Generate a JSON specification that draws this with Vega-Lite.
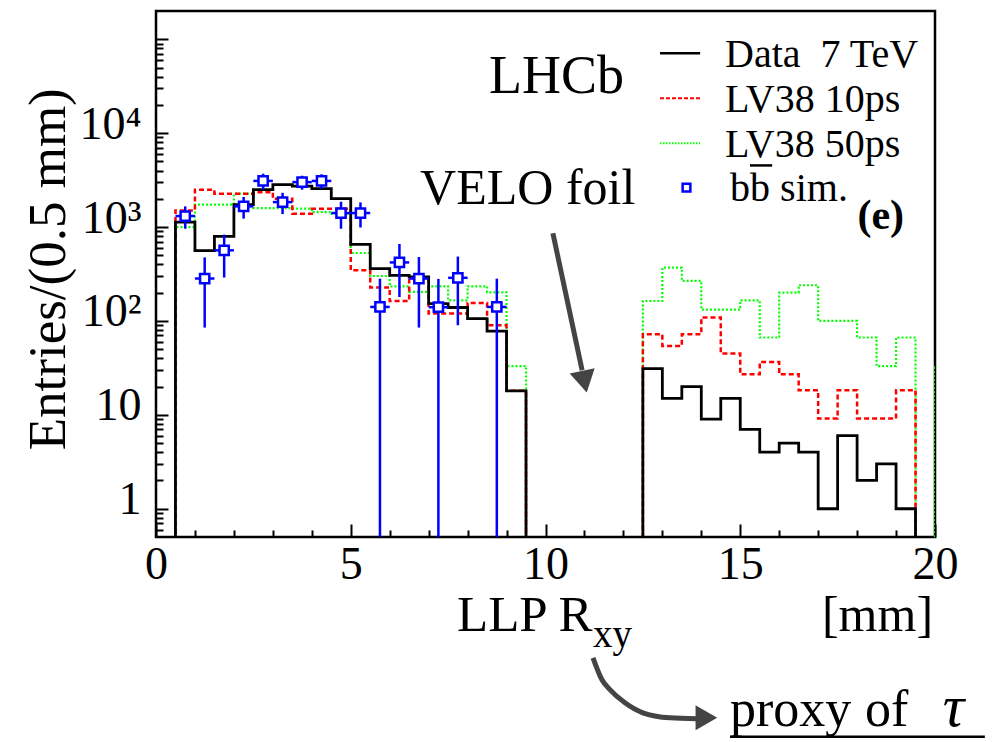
{
  "$schema": "https://vega.github.io/schema/vega-lite/v6.json",
  "autosize": {"type": "none"},
  "width": 779,
  "height": 526,
  "padding": {"left": 156, "top": 11, "right": 71, "bottom": 205},
  "background": "white",
  "config": {
    "font": "Liberation Serif",
    "view": {"stroke": "black", "strokeWidth": 2.5},
    "axis": {"grid": false, "domain": false, "tickColor": "black", "tickWidth": 2, "labelColor": "black", "labelFont": "Liberation Serif", "labelFontSize": 46, "labelOverlap": false, "labelFlush": false}
  },
  "datasets": {
    "data7": [
      {"x": 0, "y": 0.1}, {"x": 0.5, "y": 1130}, {"x": 1.0, "y": 562}, {"x": 1.5, "y": 795}, {"x": 2.0, "y": 1730},
      {"x": 2.5, "y": 2500}, {"x": 3.0, "y": 2826}, {"x": 3.5, "y": 2730}, {"x": 4.0, "y": 2560}, {"x": 4.5, "y": 2005},
      {"x": 5.0, "y": 655}, {"x": 5.5, "y": 361}, {"x": 6.0, "y": 306}, {"x": 6.5, "y": 294}, {"x": 7.0, "y": 153},
      {"x": 7.5, "y": 139}, {"x": 8.0, "y": 106}, {"x": 8.5, "y": 78}, {"x": 9.0, "y": 18}, {"x": 9.5, "y": 0.1},
      {"x": 12.5, "y": 31}, {"x": 13.0, "y": 15}, {"x": 13.5, "y": 20}, {"x": 14.0, "y": 9}, {"x": 14.5, "y": 15},
      {"x": 15.0, "y": 7}, {"x": 15.5, "y": 4}, {"x": 16.0, "y": 5}, {"x": 16.5, "y": 4}, {"x": 17.0, "y": 1},
      {"x": 17.5, "y": 6}, {"x": 18.0, "y": 2}, {"x": 18.5, "y": 3}, {"x": 19.0, "y": 1}, {"x": 19.5, "y": 0.1}, {"x": 20, "y": 0.1}
    ],
    "lv10": [
      {"x": 0, "y": 0.1}, {"x": 0.5, "y": 1500}, {"x": 1.0, "y": 2500}, {"x": 1.5, "y": 2265}, {"x": 2.0, "y": 2265},
      {"x": 2.5, "y": 2355}, {"x": 3.0, "y": 2000}, {"x": 3.5, "y": 1390}, {"x": 4.0, "y": 1570}, {"x": 4.5, "y": 1570},
      {"x": 5.0, "y": 346}, {"x": 5.5, "y": 227}, {"x": 6.0, "y": 163}, {"x": 6.5, "y": 283}, {"x": 7.0, "y": 120},
      {"x": 7.5, "y": 120}, {"x": 8.0, "y": 155}, {"x": 8.5, "y": 90}, {"x": 9.0, "y": 18}, {"x": 9.5, "y": 0.1},
      {"x": 12.5, "y": 72}, {"x": 13.0, "y": 54}, {"x": 13.5, "y": 72}, {"x": 14.0, "y": 109}, {"x": 14.5, "y": 45},
      {"x": 15.0, "y": 27}, {"x": 15.5, "y": 36.6}, {"x": 16.0, "y": 27}, {"x": 16.5, "y": 18.3}, {"x": 17.0, "y": 9.15},
      {"x": 17.5, "y": 18.3}, {"x": 18.0, "y": 9.15}, {"x": 18.5, "y": 9.15}, {"x": 19.0, "y": 18.3}, {"x": 19.5, "y": 0.1}, {"x": 20, "y": 0.1}
    ],
    "lv50": [
      {"x": 0, "y": 0.1}, {"x": 0.5, "y": 1000}, {"x": 1.0, "y": 1730}, {"x": 1.5, "y": 1730}, {"x": 2.0, "y": 2265},
      {"x": 2.5, "y": 1590}, {"x": 3.0, "y": 1590}, {"x": 3.5, "y": 1570}, {"x": 4.0, "y": 1445}, {"x": 4.5, "y": 1390},
      {"x": 5.0, "y": 529}, {"x": 5.5, "y": 301}, {"x": 6.0, "y": 234}, {"x": 6.5, "y": 204}, {"x": 7.0, "y": 234},
      {"x": 7.5, "y": 166}, {"x": 8.0, "y": 234}, {"x": 8.5, "y": 202}, {"x": 9.0, "y": 33}, {"x": 9.5, "y": 0.1},
      {"x": 12.5, "y": 163}, {"x": 13.0, "y": 370}, {"x": 13.5, "y": 267}, {"x": 14.0, "y": 132}, {"x": 14.5, "y": 132},
      {"x": 15.0, "y": 166}, {"x": 15.5, "y": 66.6}, {"x": 16.0, "y": 200}, {"x": 16.5, "y": 240}, {"x": 17.0, "y": 100},
      {"x": 17.5, "y": 100}, {"x": 18.0, "y": 66.6}, {"x": 18.5, "y": 33}, {"x": 19.0, "y": 66.6}, {"x": 19.5, "y": 0.1},
      {"x": 20.0, "y": 32}, {"x": 20.5, "y": 32}
    ],
    "bb": [
      {"x": 0.75, "y": 1310, "lo": 960, "hi": 1660, "xlo": 0.5, "xhi": 1.0},
      {"x": 1.25, "y": 283, "lo": 85, "hi": 475, "xlo": 1.0, "xhi": 1.5},
      {"x": 1.75, "y": 565, "lo": 290, "hi": 830, "xlo": 1.5, "xhi": 2.0},
      {"x": 2.25, "y": 1660, "lo": 1230, "hi": 2090, "xlo": 2.0, "xhi": 2.5},
      {"x": 2.75, "y": 3100, "lo": 2500, "hi": 3700, "xlo": 2.5, "xhi": 3.0},
      {"x": 3.25, "y": 1845, "lo": 1375, "hi": 2315, "xlo": 3.0, "xhi": 3.5},
      {"x": 3.75, "y": 3010, "lo": 2500, "hi": 3520, "xlo": 3.5, "xhi": 4.0},
      {"x": 4.25, "y": 3100, "lo": 2550, "hi": 3650, "xlo": 4.0, "xhi": 4.5},
      {"x": 4.75, "y": 1410, "lo": 960, "hi": 1860, "xlo": 4.5, "xhi": 5.0},
      {"x": 5.25, "y": 1410, "lo": 990, "hi": 1830, "xlo": 5.0, "xhi": 5.5},
      {"x": 5.75, "y": 141, "lo": 0.01, "hi": 282, "xlo": 5.5, "xhi": 6.0},
      {"x": 6.25, "y": 420, "lo": 180, "hi": 660, "xlo": 6.0, "xhi": 6.5},
      {"x": 6.75, "y": 283, "lo": 85, "hi": 480, "xlo": 6.5, "xhi": 7.0},
      {"x": 7.25, "y": 140, "lo": 0.01, "hi": 280, "xlo": 7.0, "xhi": 7.5},
      {"x": 7.75, "y": 288, "lo": 90, "hi": 485, "xlo": 7.5, "xhi": 8.0},
      {"x": 8.75, "y": 141, "lo": 0.01, "hi": 282, "xlo": 8.5, "xhi": 9.0}
    ]
  },
  "encoding": {
    "x": {"field": "x", "type": "quantitative", "title": null, "scale": {"domain": [0, 20], "nice": false, "zero": false},
      "axis": {"values": [0,1,2,3,4,5,6,7,8,9,10,11,12,13,14,15,16,17,18,19,20],
        "labelExpr": "datum.value % 5 === 0 ? format(datum.value, 'd') : ''",
        "tickSize": {"condition": {"test": "datum.value % 5 === 0", "value": -13}, "value": -7},
        "labelPadding": 18, "labelBaseline": "top", "labelAlign": "center"}},
    "y": {"field": "y", "type": "quantitative", "title": null, "scale": {"type": "log", "domain": [0.5, 200000], "nice": false},
      "axis": {"values": [0.6,0.7,0.8,0.9,1,2,3,4,5,6,7,8,9,10,20,30,40,50,60,70,80,90,100,200,300,400,500,600,700,800,900,1000,2000,3000,4000,5000,6000,7000,8000,9000,10000,20000,30000,40000,50000,60000,70000,80000,90000,100000],
        "labelExpr": "datum.value === 1 ? '1\u2004' : datum.value === 10 ? '10\u2004' : datum.value === 100 ? '10²' : datum.value === 1000 ? '10³' : datum.value === 10000 ? '10⁴' : ''",
        "tickSize": {"condition": {"test": "indexof([1,10,100,1000,10000,100000], datum.value) >= 0", "value": -12}, "value": -7},
        "labelPadding": 27, "labelAlign": "right", "labelBaseline": "middle", "labelOffset": -9}}
  },
  "layer": [
    {
      "data": {"name": "lv50"},
      "mark": {"type": "line", "interpolate": "step-after", "clip": true, "color": "#00ff00", "strokeWidth": 2.2, "strokeDash": [2, 2]}
    },
    {
      "data": {"name": "lv10"},
      "mark": {"type": "line", "interpolate": "step-after", "clip": true, "color": "#ff0000", "strokeWidth": 2.5, "strokeDash": [5, 3]}
    },
    {
      "data": {"name": "data7"},
      "mark": {"type": "line", "interpolate": "step-after", "clip": true, "color": "black", "strokeWidth": 2.8}
    },
    {
      "data": {"name": "bb"},
      "mark": {"type": "rule", "clip": true, "color": "#0000ff", "strokeWidth": 2.5},
      "encoding": {"y2": {"field": "hi"}}
    },
    {
      "data": {"name": "bb"},
      "mark": {"type": "rule", "clip": true, "color": "#0000ff", "strokeWidth": 2.5},
      "encoding": {"y2": {"field": "lo"}}
    },
    {
      "data": {"name": "bb"},
      "mark": {"type": "rule", "clip": true, "color": "#0000ff", "strokeWidth": 2.5},
      "encoding": {"x2": {"field": "xlo"}}
    },
    {
      "data": {"name": "bb"},
      "mark": {"type": "rule", "clip": true, "color": "#0000ff", "strokeWidth": 2.5},
      "encoding": {"x2": {"field": "xhi"}}
    },
    {
      "data": {"name": "bb"},
      "mark": {"type": "point", "shape": "square", "filled": false, "fill": "white", "fillOpacity": 1, "stroke": "#0000ff", "strokeWidth": 2.5, "size": 85, "opacity": 1}
    },
    {
      "data": {"values": [{"x": 12.94, "x2": 13.97, "y": 70960}]},
      "mark": {"type": "rule", "color": "black", "strokeWidth": 2.5},
      "encoding": {"x2": {"field": "x2"}}
    },
    {
      "data": {"values": [{"x": 12.94, "x2": 13.97, "y": 23570}]},
      "mark": {"type": "rule", "color": "#ff0000", "strokeWidth": 2, "strokeDash": [4, 2]},
      "encoding": {"x2": {"field": "x2"}}
    },
    {
      "data": {"values": [{"x": 12.94, "x2": 13.97, "y": 7830}]},
      "mark": {"type": "rule", "color": "#00ff00", "strokeWidth": 2, "strokeDash": [1.5, 1.5]},
      "encoding": {"x2": {"field": "x2"}}
    },
    {
      "data": {"values": [{"x": 13.62, "y": 2625}]},
      "mark": {"type": "point", "shape": "square", "filled": false, "fill": "white", "fillOpacity": 1, "stroke": "#0000ff", "strokeWidth": 2.5, "size": 60, "opacity": 1}
    },
    {
      "data": {"values": [
        {"t": "Data\u00a0 7 TeV", "x": 14.61, "y": 50350},
        {"t": "LV38 10ps", "x": 14.61, "y": 16730},
        {"t": "LV38 50ps", "x": 14.61, "y": 5556},
        {"t": "bb sim.", "x": 14.74, "y": 1914}
      ]},
      "mark": {"type": "text", "align": "left", "baseline": "alphabetic", "font": "Liberation Serif", "fontSize": 40, "color": "black"},
      "encoding": {"text": {"field": "t"}}
    },
    {
      "data": {"values": [{"x": 15.25, "x2": 15.82, "y": 4533}]},
      "mark": {"type": "rule", "color": "black", "strokeWidth": 2.5},
      "encoding": {"x2": {"field": "x2"}}
    },
    {
      "data": {"values": [{"t": "(e)", "x": 18.01, "y": 964}]},
      "mark": {"type": "text", "align": "left", "baseline": "alphabetic", "font": "Liberation Serif", "fontSize": 42, "fontWeight": "bold", "color": "black"},
      "encoding": {"text": {"field": "t"}}
    },
    {
      "data": {"values": [{"t": "LHCb", "x": 8.55, "y": 26650}]},
      "mark": {"type": "text", "align": "left", "baseline": "alphabetic", "font": "Liberation Serif", "fontSize": 54, "color": "black"},
      "encoding": {"text": {"field": "t"}}
    },
    {
      "data": {"values": [{"t": "VELO foil", "x": 6.78, "y": 1774}]},
      "mark": {"type": "text", "align": "left", "baseline": "alphabetic", "font": "Liberation Serif", "fontSize": 50, "color": "black"},
      "encoding": {"text": {"field": "t"}}
    },
    {
      "data": {"values": [{"x": 10.19, "y": 857, "x2": 10.94, "y2": 29.9}]},
      "mark": {"type": "rule", "color": "#444444", "strokeWidth": 5},
      "encoding": {"x2": {"field": "x2"}, "y2": {"field": "y2"}}
    },
    {
      "data": {"values": [{"x": 11.0, "y": 22.6}]},
      "mark": {"type": "point", "shape": "triangle-down", "filled": true, "color": "#444444", "opacity": 1, "size": 650, "angle": -12}
    },
    {
      "data": {"values": [{"t": "Entries/(0.5 mm)", "x": -2.336, "y": 355}]},
      "mark": {"type": "text", "align": "center", "baseline": "alphabetic", "angle": 270, "font": "Liberation Serif", "fontSize": 53, "color": "black"},
      "encoding": {"text": {"field": "t"}}
    },
    {
      "data": {"values": [{"t": "LLP R", "x": 7.728, "y": 0.05}]},
      "mark": {"type": "text", "align": "left", "baseline": "alphabetic", "font": "Liberation Serif", "fontSize": 51, "color": "black"},
      "encoding": {"text": {"field": "t"}}
    },
    {
      "data": {"values": [{"t": "xy", "x": 11.22, "y": 0.0336}]},
      "mark": {"type": "text", "align": "left", "baseline": "alphabetic", "font": "Liberation Serif", "fontSize": 39, "color": "black"},
      "encoding": {"text": {"field": "t"}}
    },
    {
      "data": {"values": [{"t": "[mm]", "x": 19.95, "y": 0.05}]},
      "mark": {"type": "text", "align": "right", "baseline": "alphabetic", "font": "Liberation Serif", "fontSize": 50, "color": "black"},
      "encoding": {"text": {"field": "t"}}
    },
    {
      "data": {"values": [
        {"x": 11.22, "y": 0.0258}, {"x": 11.45, "y": 0.01507}, {"x": 11.66, "y": 0.01178}, {"x": 12.04, "y": 0.00857},
        {"x": 12.5, "y": 0.00671}, {"x": 13.2, "y": 0.00593}, {"x": 13.89, "y": 0.00579}
      ]},
      "mark": {"type": "line", "interpolate": "monotone", "color": "#444444", "strokeWidth": 5}
    },
    {
      "data": {"values": [{"x": 14.13, "y": 0.00593}]},
      "mark": {"type": "point", "shape": "triangle-right", "filled": true, "color": "#444444", "opacity": 1, "size": 625}
    },
    {
      "data": {"values": [
        {"t": "proxy", "x": 14.737, "y": 0.0048},
        {"t": "of", "x": 18.2, "y": 0.0048}
      ]},
      "mark": {"type": "text", "align": "left", "baseline": "alphabetic", "font": "Liberation Serif", "fontSize": 52, "color": "black"},
      "encoding": {"text": {"field": "t"}}
    },
    {
      "data": {"values": [{"t": "τ", "x": 20.2, "y": 0.0048}]},
      "mark": {"type": "text", "align": "left", "baseline": "alphabetic", "font": "Liberation Serif", "fontSize": 60, "fontStyle": "italic", "color": "black"},
      "encoding": {"text": {"field": "t"}}
    },
    {
      "data": {"values": [{"x": 14.737, "x2": 21.28, "y": 0.003725}]},
      "mark": {"type": "rule", "color": "black", "strokeWidth": 2.5},
      "encoding": {"x2": {"field": "x2"}}
    }
  ]
}
